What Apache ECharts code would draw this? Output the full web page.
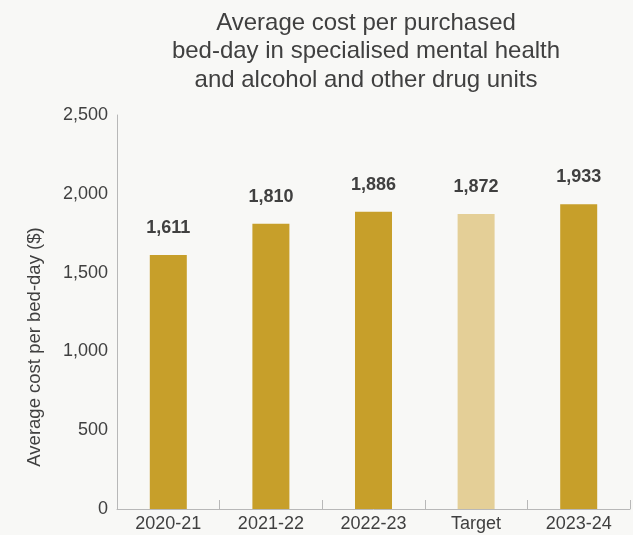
<!DOCTYPE html>
<html>
<head>
<meta charset="utf-8">
<script src="https://cdn.jsdelivr.net/npm/echarts@6/dist/echarts.min.js"></script>
<style>
  html, body { margin: 0; padding: 0; background: #f8f8f6; }
  #chart { width: 633px; height: 535px; }
</style>
</head>
<body>
<div id="chart"></div>
<script>
// Average cost per purchased bed-day, by year plus the target
const categories = ['2020-21', '2021-22', '2022-23', 'Target', '2023-24'];
const costValues = [1611, 1810, 1886, 1872, 1933];
const yTicks = [0, 500, 1000, 1500, 2000, 2500];

const barColor = '#c79f2a';
const targetColor = '#e4cf97';
const textColor = '#404040';
const fontFamily = '"Liberation Sans", Arial, sans-serif';

const chart = echarts.init(document.getElementById('chart'), null, { renderer: 'canvas' });

chart.setOption({
  backgroundColor: '#f8f8f6',
  animation: false,
  title: {
    text: 'Average cost per purchased\nbed-day in specialised mental health\nand alcohol and other drug units',
    left: 361,
    top: 4,
    textAlign: 'center',
    textStyle: {
      fontFamily: fontFamily,
      fontSize: 24,
      fontWeight: 'normal',
      lineHeight: 28.5,
      color: textColor
    }
  },
  grid: { left: 117, right: 3, top: 115, bottom: 26, containLabel: false },
  graphic: [{
    type: 'text',
    x: 35,
    y: 347,
    rotation: Math.PI / 2,
    style: {
      text: 'Average cost per bed-day ($)',
      font: '18.5px ' + fontFamily,
      fill: textColor,
      textAlign: 'center',
      textVerticalAlign: 'middle'
    }
  }],
  xAxis: {
    type: 'category',
    data: categories,
    axisLine: { lineStyle: { color: '#b8b8b8', width: 1 } },
    axisTick: { show: true, inside: true, length: 9, lineStyle: { color: '#b8b8b8' } },
    axisLabel: {
      color: textColor,
      fontSize: 18,
      fontFamily: fontFamily,
      margin: 6
    }
  },
  yAxis: {
    type: 'value',
    min: yTicks[0],
    max: yTicks[yTicks.length - 1],
    interval: yTicks[1] - yTicks[0],
    axisLine: { show: true, lineStyle: { color: '#b8b8b8', width: 1 } },
    axisTick: { show: false },
    splitLine: { show: false },
    axisLabel: {
      color: textColor,
      fontSize: 18,
      fontFamily: fontFamily,
      margin: 9,
      padding: [5, 0, 0, 0],
      formatter: v => v.toLocaleString('en-US')
    }
  },
  series: [{
    type: 'bar',
    barWidth: 37,
    data: costValues.map((v, i) => ({
      value: v,
      itemStyle: { color: categories[i] === 'Target' ? targetColor : barColor }
    })),
    label: {
      show: true,
      position: 'top',
      distance: 18,
      color: textColor,
      fontSize: 18,
      fontWeight: 'bold',
      fontFamily: fontFamily,
      formatter: p => p.value.toLocaleString('en-US')
    }
  }]
});
</script>
</body>
</html>
